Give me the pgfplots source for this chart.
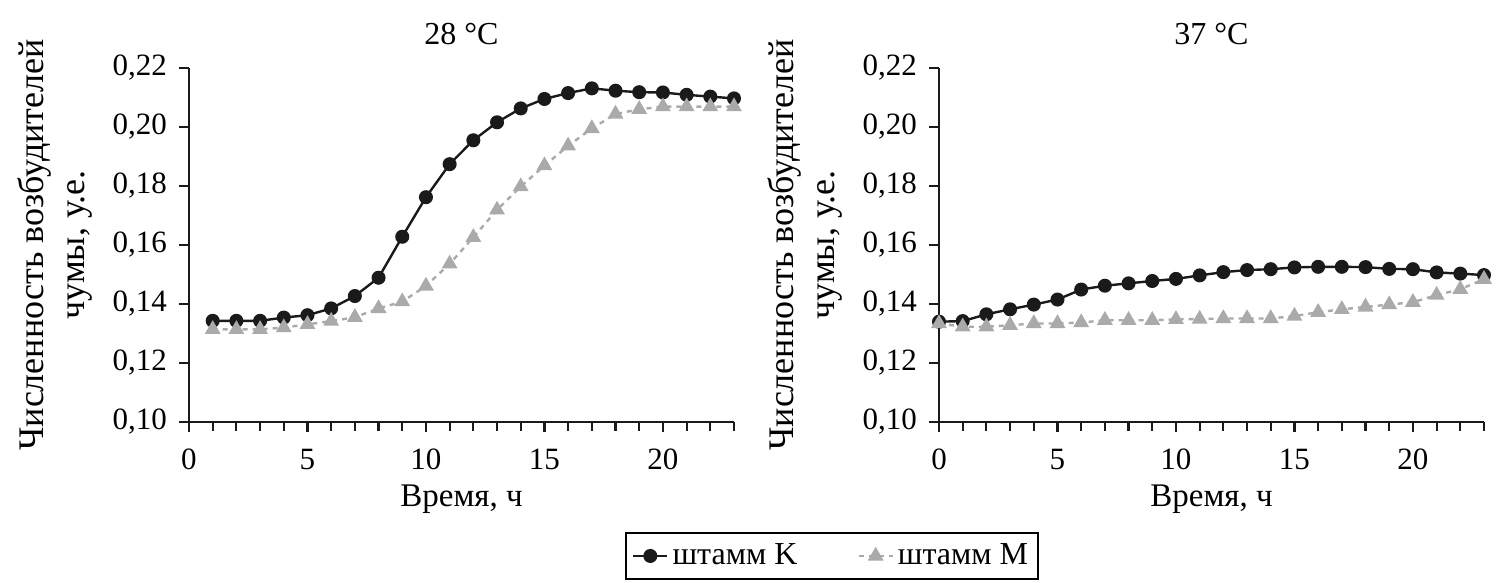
\documentclass[border=0pt]{standalone}
\usepackage{pgfplots}
\pgfplotsset{compat=1.18}
\usepackage{fontspec}
\setmainfont{Liberation Serif}
\definecolor{cK}{HTML}{1A1A1A}
\definecolor{cM}{HTML}{AAAAAA}
\newcommand{\tf}{\fontsize{15.5}{18}\selectfont}
\newcommand{\xf}{\fontsize{16.5}{19}\selectfont}
\newcommand{\lf}{\fontsize{18}{20.5}\selectfont}
\newcommand{\gf}{\fontsize{16}{18}\selectfont}
\pgfplotsset{
  myax/.style={
    scale only axis, width=272.5pt, height=177pt,
    xmin=0, xmax=23, ymin=0.10, ymax=0.22,
    axis x line=bottom, axis y line=left,
    axis line style={-, line width=1.1pt, cK},
    tick align=outside,
    xtick={0,5,...,20}, minor xtick={0,...,23},
    ytick={0.10,0.12,...,0.221},
    major tick length=5pt, minor tick length=4.5pt,
    tick style={line width=1.1pt, cK},
    every tick/.style={line width=1.1pt, cK},
    /pgf/number format/assume math mode=true,
    yticklabel style={/pgf/number format/.cd, fixed, fixed zerofill, precision=2, use comma, /tikz/.cd, font=\tf, xshift=-2.5pt},
    xticklabel style={font=\tf, yshift=-5pt},
    xlabel={Время, ч},
    xlabel style={font=\xf, at={(axis description cs:0.5,0)}, anchor=center, yshift=-38.5pt},
    ylabel={Численность возбудителей\\чумы, у.е.},
    ylabel style={font=\lf, align=center, at={(axis description cs:-0.246,0.5)}, anchor=center},
    title style={font=\fontsize{16}{19}\selectfont, at={(axis description cs:0.5,1)}, anchor=center, yshift=11pt},
    clip=false,
  },
  serK/.style={color=cK, line width=1.2pt, mark=*, mark size=2.9pt, mark options={solid, fill=cK}},
  serM/.style={color=cM, line width=1.2pt, dash pattern=on 2.5pt off 2.5pt, mark=triangle*, mark size=3.4pt, mark options={solid, fill=cM}},
}
\begin{document}
\begin{tikzpicture}
\path[use as bounding box] (0,0) rectangle (750pt,291.5pt);
\begin{axis}[myax, at={(94.5pt,80.5pt)}, anchor=south west, title={28 °C},
  legend columns=2,
  legend style={at={(axis description cs:1.18,-0.3785)}, anchor=center, draw=black, line width=1.1pt, font=\gf,
    inner ysep=3.5pt,
    /tikz/every even column/.append style={column sep=28pt}},
  legend cell align=left]
\addplot[serK] coordinates {
(1,0.1343)(2,0.1343)(3,0.1343)(4,0.1354)(5,0.1362)(6,0.1385)(7,0.1427)(8,0.1489)
(9,0.1628)(10,0.1762)(11,0.1874)(12,0.1955)(13,0.2016)(14,0.2063)(15,0.2095)(16,0.2115)
(17,0.2131)(18,0.2123)(19,0.2118)(20,0.2117)(21,0.2109)(22,0.2103)(23,0.2097)};
\addlegendentry{штамм K}
\addplot[serM] coordinates {
(1,0.1314)(2,0.1314)(3,0.1314)(4,0.1320)(5,0.1331)(6,0.1342)(7,0.1355)(8,0.1385)
(9,0.1408)(10,0.1461)(11,0.1536)(12,0.1626)(13,0.1719)(14,0.1798)(15,0.1869)(16,0.1936)
(17,0.1995)(18,0.2044)(19,0.2060)(20,0.2069)(21,0.2069)(22,0.2069)(23,0.2069)};
\addlegendentry{штамм M}
\end{axis}
\begin{axis}[myax, at={(469.5pt,80.5pt)}, anchor=south west, title={37 °C}]
\addplot[serK] coordinates {
(0,0.1340)(1,0.1342)(2,0.1365)(3,0.1382)(4,0.1398)(5,0.1415)(6,0.1449)(7,0.1462)
(8,0.1470)(9,0.1478)(10,0.1485)(11,0.1497)(12,0.1508)(13,0.1515)(14,0.1518)(15,0.1524)
(16,0.1526)(17,0.1526)(18,0.1525)(19,0.1519)(20,0.1518)(21,0.1507)(22,0.1503)(23,0.1498)};
\addplot[serM] coordinates {
(0,0.1334)(1,0.1323)(2,0.1323)(3,0.1328)(4,0.1334)(5,0.1334)(6,0.1337)(7,0.1345)
(8,0.1345)(9,0.1345)(10,0.1348)(11,0.1349)(12,0.1351)(13,0.1351)(14,0.1351)(15,0.1359)
(16,0.1372)(17,0.1382)(18,0.1390)(19,0.1398)(20,0.1406)(21,0.1430)(22,0.1450)(23,0.1484)};
\end{axis}
\end{tikzpicture}
\end{document}
